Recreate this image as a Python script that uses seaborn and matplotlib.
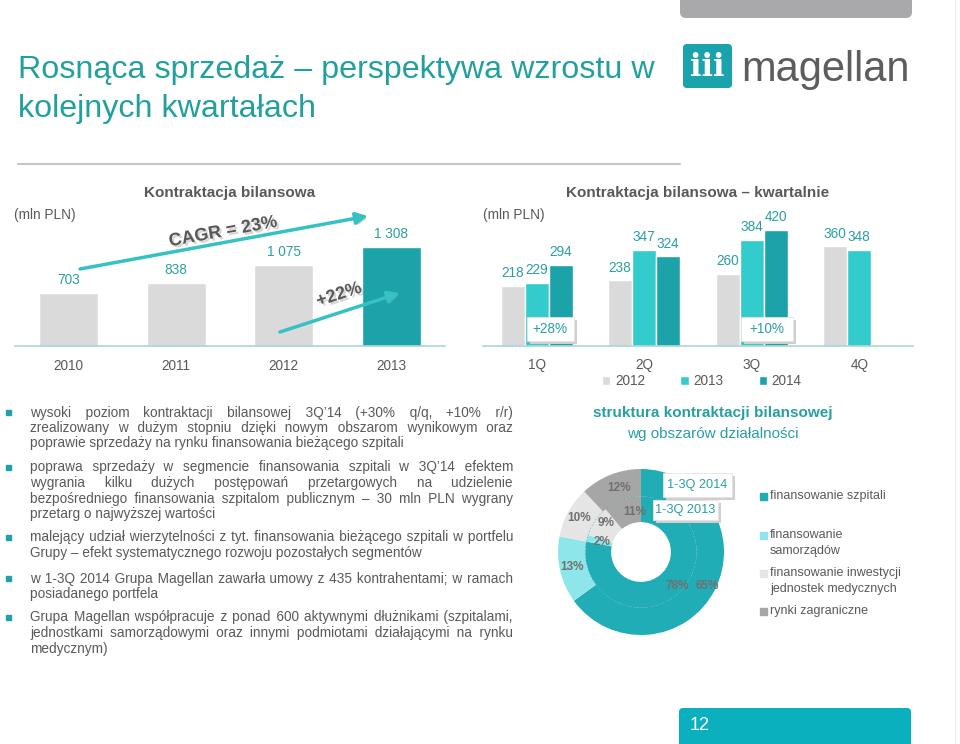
"""Magellan slide: balance contracting, yearly and quarterly, plus portfolio structure."""
import matplotlib
matplotlib.use('Agg')
import matplotlib.pyplot as plt
import matplotlib.patheffects as pe
from matplotlib.patches import Rectangle, FancyBboxPatch, Circle
import numpy as np
import pandas as pd
import seaborn as sns

# ---- data -------------------------------------------------------------
years = ['2010', '2011', '2012', '2013']
annual = [703, 838, 1075, 1308]
annual_labels = ['703', '838', '1 075', '1 308']

quarters = ['1Q', '2Q', '3Q', '4Q']
q_years = ['2012', '2013', '2014']
q2012 = [218, 238, 260, 360]
q2013 = [229, 347, 384, 348]
q2014 = [294, 324, 420, np.nan]

segments = ['finansowanie szpitali', 'finansowanie\nsamorządów',
            'finansowanie inwestycji\njednostek medycznych', 'rynki zagraniczne']
share_2014 = [65, 13, 10, 12]
share_2013 = [78, 2, 9, 11]

bullets = [
    ['wysoki poziom kontraktacji bilansowej 3Q’14 (+30% q/q, +10% r/r)',
     'zrealizowany w dużym stopniu dzięki nowym obszarom wynikowym oraz',
     'poprawie sprzedaży na rynku finansowania bieżącego szpitali'],
    ['poprawa sprzedaży w segmencie finansowania szpitali w 3Q’14 efektem',
     'wygrania kilku dużych postępowań przetargowych na udzielenie',
     'bezpośredniego finansowania szpitalom publicznym – 30 mln PLN wygrany',
     'przetarg o najwyższej wartości'],
    ['malejący udział wierzytelności z tyt. finansowania bieżącego szpitali w portfelu',
     'Grupy – efekt systematycznego rozwoju pozostałych segmentów'],
    ['w 1-3Q 2014 Grupa Magellan zawarła umowy z 435 kontrahentami; w ramach',
     'posiadanego portfela'],
    ['Grupa Magellan współpracuje z ponad 600 aktywnymi dłużnikami (szpitalami,',
     'jednostkami samorządowymi oraz innymi podmiotami działającymi na rynku',
     'medycznym)'],
]

# ---- colours ------------------------------------------------------------
GREY_BAR = '#dadada'
TEAL_DARK = '#1ba3a9'
TEAL_MID = '#33cbcb'
TEAL_TEXT = '#2a9fa2'
TEXT_GREY = '#595959'
AXIS_LINE = '#a8d6d8'
ARROW = '#36c2c2'
donut_colors = ['#20adb5', '#8fe6ea', '#e5e5e5', '#a6a6a6']

sns.set_style('white')
plt.rcParams['font.family'] = ['Liberation Sans', 'DejaVu Sans']

W, H = 960, 744
fig = plt.figure(figsize=(W / 100, H / 100), dpi=100)


def px_rect(x, y_top, w, h):
    """Figure rect from pixel box (origin top-left)."""
    return [x / W, (H - y_top - h) / H, w / W, h / H]


def style_bar_axes(ax, top):
    ax.set_ylim(0, top)
    ax.set(xlabel='', ylabel='', yticks=[])
    for side in ['left', 'right', 'top']:
        ax.spines[side].set_visible(False)
    ax.spines['bottom'].set_color(AXIS_LINE)
    ax.spines['bottom'].set_linewidth(1.2)
    ax.tick_params(axis='x', length=0, pad=9, labelsize=9.8, labelcolor=TEXT_GREY)
    ax.patch.set_alpha(0)


# ---- yearly bars --------------------------------------------------------
ax1 = fig.add_axes(px_rect(15, 200, 430, 146))
sns.barplot(x=years, y=annual, hue=years, legend=False, width=0.55, saturation=1,
            palette=[GREY_BAR, GREY_BAR, GREY_BAR, TEAL_DARK], ax=ax1)
style_bar_axes(ax1, 1930)
for cont, lab in zip(ax1.containers, annual_labels):
    ax1.bar_label(cont, labels=[lab], padding=4, fontsize=9.8, color=TEAL_TEXT)

# ---- quarterly bars -----------------------------------------------------
qdf = pd.DataFrame({
    'kw': quarters * 3,
    'rok': [y for y in q_years for _ in quarters],
    'v': q2012 + q2013 + q2014,
})
ax2 = fig.add_axes(px_rect(483, 200, 430, 146))
sns.barplot(data=qdf, x='kw', y='v', hue='rok', width=0.67, saturation=1, errorbar=None,
            palette={'2012': GREY_BAR, '2013': TEAL_MID, '2014': TEAL_DARK}, ax=ax2)
style_bar_axes(ax2, 527)
for cont in ax2.containers:
    labs = ['' if np.isnan(b.get_height()) else f'{b.get_height():.0f}' for b in cont]
    ax2.bar_label(cont, labels=labs, padding=4, fontsize=9.8, color=TEAL_TEXT)
sns.move_legend(ax2, 'center', bbox_to_anchor=((702 - 483) / 430, (346 - 381) / 146),
                ncol=3, frameon=False, title=None, fontsize=9.8, handlelength=0.6,
                handleheight=0.6, handletextpad=0.35, columnspacing=2.6)
for t in ax2.get_legend().get_texts():
    t.set_color(TEXT_GREY)

# ---- donut --------------------------------------------------------------
ax3 = fig.add_axes(px_rect(558, 469, 166, 166))
ax3.pie(share_2014, radius=1.0, startangle=90, counterclock=False, colors=donut_colors,
        wedgeprops=dict(width=0.33, edgecolor='none'))
ax3.pie(share_2013, radius=0.67, startangle=90, counterclock=False, colors=donut_colors,
        wedgeprops=dict(width=0.31, edgecolor='none'))
ax3.add_patch(Circle((0, 0), 0.67, fill=False, ec='#158f97', lw=0.6, ls=(0, (2, 2)), alpha=0.45))
ax3.set_xlim(-1, 1)
ax3.set_ylim(-1, 1)
ax3.set_aspect('equal')

# ---- overlay in pixel coordinates ---------------------------------------
ov = fig.add_axes([0, 0, 1, 1])
ov.set_xlim(0, W)
ov.set_ylim(H, 0)
ov.axis('off')
ov.patch.set_visible(False)
renderer = fig.canvas.get_renderer()

# header
ov.add_patch(FancyBboxPatch((680, -10), 232, 28, boxstyle='round,pad=0,rounding_size=6',
                            fc='#a9a9ab', ec='none'))
ov.text(18, 78, 'Rosnąca sprzedaż – perspektywa wzrostu w', fontsize=23.2,
        color='#22a0a0', va='baseline')
ov.text(18, 117, 'kolejnych kwartałach', fontsize=23.2, color='#22a0a0', va='baseline')
ov.plot([18, 680], [164, 164], color='#c4c4c4', lw=1.5)
ov.add_patch(FancyBboxPatch((683, 44), 49, 44, boxstyle='round,pad=0,rounding_size=4',
                            fc='#1aa3ad', ec='none'))
ov.text(707.5, 67, 'iii', fontsize=22, color='white', fontweight='bold',
        family='DejaVu Serif', ha='center', va='center')
ov.text(741, 81, 'magellan', fontsize=30, color='#5d5d5d', va='baseline')

# chart titles
ov.text(230, 193, 'Kontraktacja bilansowa', fontsize=11, fontweight='bold',
        color=TEXT_GREY, ha='center', va='center')
ov.text(14, 215, '(mln PLN)', fontsize=9.8, color=TEXT_GREY, va='center')
ov.text(698, 193, 'Kontraktacja bilansowa – kwartalnie', fontsize=11, fontweight='bold',
        color=TEXT_GREY, ha='center', va='center')
ov.text(483, 215, '(mln PLN)', fontsize=9.8, color=TEXT_GREY, va='center')

# growth arrows
shadow = [pe.withSimplePatchShadow(offset=(1.5, -1.5), shadow_rgbFace='#888888', alpha=0.35)]
ov.annotate('', xy=(368, 216), xytext=(80, 269),
            arrowprops=dict(arrowstyle='-|>,head_length=0.7,head_width=0.35', color=ARROW,
                            lw=2.5, shrinkA=0, shrinkB=0, path_effects=shadow))
ov.annotate('', xy=(400, 293), xytext=(280, 332),
            arrowprops=dict(arrowstyle='-|>,head_length=0.7,head_width=0.35', color=ARROW,
                            lw=2.5, shrinkA=0, shrinkB=0, path_effects=shadow))
ov.text(223, 232, 'CAGR = 23%', fontsize=13, fontweight='bold', color=TEXT_GREY,
        rotation=10.4, rotation_mode='anchor', ha='center', va='center', path_effects=shadow)
ov.text(339, 295, '+22%', fontsize=13, fontweight='bold', color=TEXT_GREY,
        rotation=18, rotation_mode='anchor', ha='center', va='center', path_effects=shadow)


def shadow_box(cx, cy, text, w, h, size=9.8):
    """White label box with a soft grey drop shadow."""
    ov.add_patch(Rectangle((cx - w / 2 + 3, cy - h / 2 + 3), w, h, fc='#cfcfcf', ec='none'))
    ov.add_patch(Rectangle((cx - w / 2, cy - h / 2), w, h, fc='white', ec='#e4e4e4', lw=0.6))
    ov.text(cx, cy, text, fontsize=size, color=TEAL_TEXT, ha='center', va='center')


shadow_box(550, 329, '+28%', 47, 24)
shadow_box(767, 329, '+10%', 52, 24)

# bullet text, justified by padding the word gaps with spaces and hair spaces
BODY = 9.8
HAIR = '\u200a'


def text_width(s):
    t = ov.text(0, 0, s, fontsize=BODY)
    w = t.get_window_extent(renderer).width
    t.remove()
    return w


w_space = text_width('a a') - text_width('aa')
w_hair = text_width('a' + HAIR + 'a') - text_width('aa')


def justify_line(line, target):
    words = line.split(' ')
    extra = target - text_width(line)
    gaps = len(words) - 1
    if gaps == 0 or extra <= 0:
        return line
    out, done = words[0], 0.0
    for i, word in enumerate(words[1:], start=1):
        want = extra * i / gaps - done
        n_sp = int(want // w_space)
        n_hair = int(round((want - n_sp * w_space) / w_hair)) if w_hair > 0.3 else 0
        done += n_sp * w_space + n_hair * w_hair
        out += ' ' * (1 + n_sp) + HAIR * n_hair + word
    return out


def paragraph(lines, y0, step=15.5, x0=30, x1=513):
    ov.add_patch(Rectangle((6, y0 - 2.5), 5, 5, color=TEAL_DARK))
    for i, line in enumerate(lines):
        y = y0 + i * step + 4.5
        if i < len(lines) - 1:
            line = justify_line(line, x1 - x0)
        ov.text(x0, y, line, fontsize=BODY, color=TEXT_GREY, va='baseline')


for lines, y0 in zip(bullets, [412, 467, 537, 578, 617]):
    paragraph(lines, y0)

# donut section
ov.text(713, 413, 'struktura kontraktacji bilansowej', fontsize=11, fontweight='bold',
        color=TEAL_TEXT, ha='center', va='center')
ov.text(713, 434, 'wg obszarów działalności', fontsize=11, color=TEAL_TEXT,
        ha='center', va='center')
pct_pos_2014 = [(707, 586), (572, 567), (579, 518), (619, 488)]
pct_pos_2013 = [(677, 586), (602, 542), (606, 523), (635, 512)]
for vals, pos in [(share_2014, pct_pos_2014), (share_2013, pct_pos_2013)]:
    for v, (x, y) in zip(vals, pos):
        ov.text(x, y, f'{v}%', fontsize=8.5, fontweight='bold', color='#707070',
                ha='center', va='center')
shadow_box(697, 485, '1-3Q 2014', 69, 24, size=9.2)
shadow_box(685, 510, '1-3Q 2013', 65, 20, size=9.2)

for (lab, col), y in zip(zip(segments, donut_colors), [496, 535, 573, 611]):
    ov.add_patch(Rectangle((760, y - 3.5), 7, 7, color=col))
    for j, part in enumerate(lab.split('\n')):
        ov.text(770, y + j * 16, part, fontsize=9, color=TEXT_GREY, va='center')

# footer
ov.add_patch(FancyBboxPatch((679, 708), 232, 45, boxstyle='round,pad=0,rounding_size=4',
                            fc='#0bb0be', ec='none'))
ov.text(690, 726, '12', fontsize=13, color='white', va='center')
ov.plot([955, 955], [0, H], color='#ececec', lw=1)

fig.savefig('out.png', dpi=100)
